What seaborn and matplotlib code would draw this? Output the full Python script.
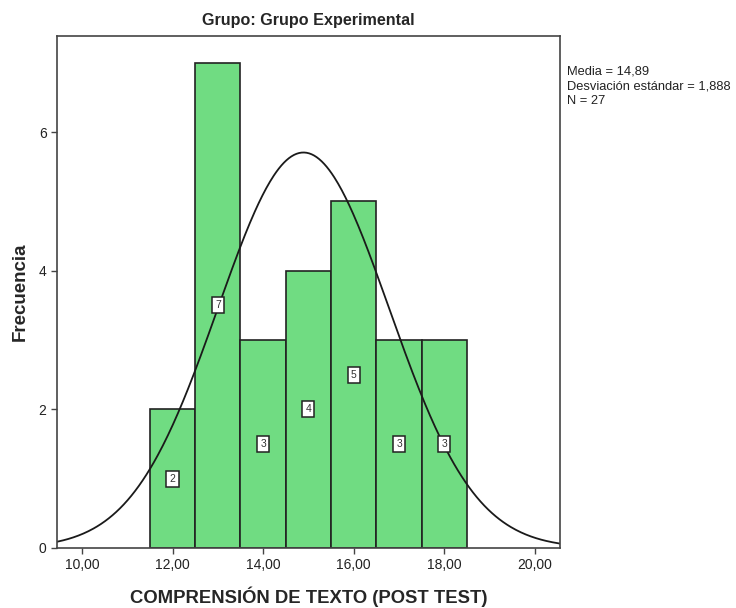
import numpy as np
import pandas as pd
import matplotlib.pyplot as plt
import seaborn as sns

puntajes = [12, 13, 14, 15, 16, 17, 18]
frecuencias = [2, 7, 3, 4, 5, 3, 3]
media = 14.89
desv = 1.888
n = 27
xticks = [10, 12, 14, 16, 18, 20]
yticks = [0, 2, 4, 6]

sns.set_style("white")
plt.rcParams['font.family'] = ['Liberation Sans', 'DejaVu Sans']

df = pd.DataFrame({'puntaje': puntajes, 'frecuencia': frecuencias})

fig = plt.figure(figsize=(7.36, 6.08), dpi=100)
ax = fig.add_axes([0.0774, 0.0987, 0.6834, 0.842])

bordes = [p - 0.5 for p in puntajes] + [puntajes[-1] + 0.5]
sns.histplot(df, x='puntaje', weights='frecuencia', bins=bordes, ax=ax,
             color='#70dc82', alpha=1, edgecolor='#222222', linewidth=1.2)

# curva normal escalada (ancho de barra = 1)
xs = np.linspace(9.45, 20.55, 400)
ys = n / (desv * np.sqrt(2 * np.pi)) * np.exp(-0.5 * ((xs - media) / desv) ** 2)
sns.lineplot(x=xs, y=ys, ax=ax, color='#1a1a1a', linewidth=1.3)

# etiquetas de frecuencia
for p, f in zip(puntajes, frecuencias):
    ax.text(p, f / 2, str(f), ha='center', va='center', fontsize=7.5, color='#333333',
            bbox=dict(boxstyle='square,pad=0.3', fc='white', ec='#222222', lw=1.1))

ax.set_xlim(9.45, 20.55)
ax.set_ylim(0, 7.385)
ax.set_xticks(xticks)
ax.set_xticklabels([f"{v},00" for v in xticks], fontsize=10, color='#222222')
ax.set_yticks(yticks)
ax.set_yticklabels([str(v) for v in yticks], fontsize=10, color='#222222')
ax.tick_params(axis='both', which='both', direction='out', length=4, width=1,
               color='#444444', bottom=True, left=True)
for s in ax.spines.values():
    s.set_color('#444444')
    s.set_linewidth(1.2)

ax.set_xlabel('COMPRENSIÓN DE TEXTO (POST TEST)', fontsize=13.3, fontweight='bold', labelpad=10)
ax.set_ylabel('Frecuencia', fontsize=13.5, fontweight='bold', labelpad=7)
ax.set_title('Grupo: Grupo Experimental', fontsize=11.6, fontweight='bold', pad=8)

fig.text(0.771, 0.892, f"Media = 14,89\nDesviación estándar = 1,888\nN = {n}",
         fontsize=9.3, va='top', ha='left', linespacing=1.3, color='#222222')

fig.savefig('out.png', dpi=100)
